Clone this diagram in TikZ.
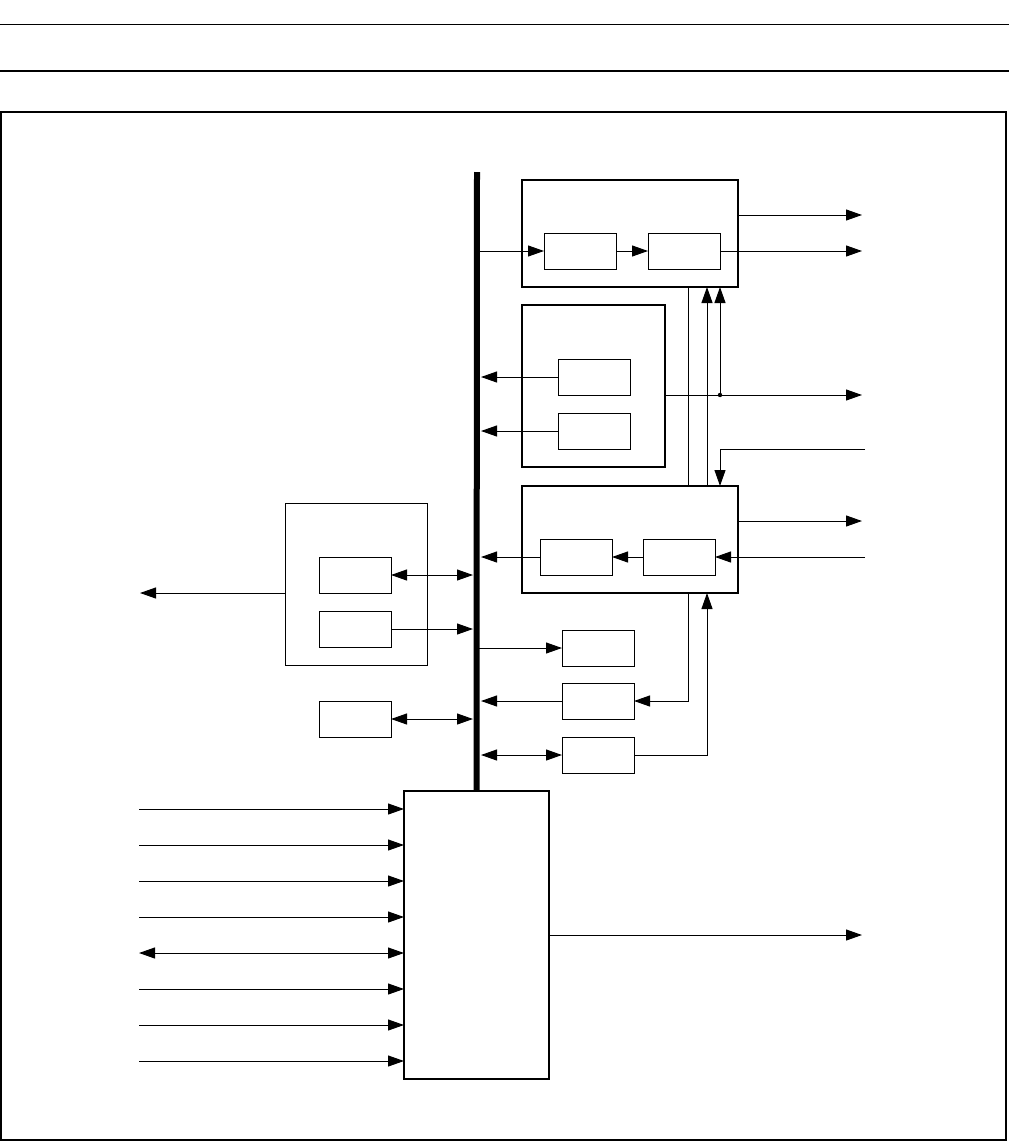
\documentclass[tikz,border=0pt]{standalone}
\usepackage{tikz}
\usetikzlibrary{arrows.meta,calc,positioning}

\tikzset{
  blk/.style={draw, line width=1pt, minimum width=72pt, minimum height=36pt, inner sep=0pt, outer sep=0pt},
  unitbox/.style={draw, line width=1.6pt, inner sep=0pt, outer sep=0pt},
  wire/.style={line width=1pt},
  sig/.style={wire, -{Triangle[length=16pt,width=11pt]}},
  sigboth/.style={wire, {Triangle[length=16pt,width=11pt]}-{Triangle[length=16pt,width=11pt]}},
}

\begin{document}
\begin{tikzpicture}[x=1pt, y=-1pt]
  \useasboundingbox (0,0) rectangle (1009,1143);
  % page rules and frame
  \draw[line width=1pt] (0,24) -- (1009,24);
  \draw[line width=2pt] (0,71) -- (1009,71);
  \draw[line width=2pt] (1,112) rectangle (1006,1140);

  % units on the right of the bus
  \node[unitbox, minimum width=216pt, minimum height=107pt] (tx) at (630,233.5) {};
  \node[blk] (tx1) at (580,251) {};
  \node[blk] (tx2) at (684,251) {};
  \node[unitbox, minimum width=143pt, minimum height=162pt] (st) at (593.5,386) {};
  \node[blk] (st1) at (594,377) {};
  \node[blk] (st2) at (594,431) {};
  \node[unitbox, minimum width=216pt, minimum height=107pt] (rx) at (630,539.5) {};
  \node[blk] (rx1) at (576,557) {};
  \node[blk] (rx2) at (679,557) {};
  \node[blk] (ex1) at (598,648) {};
  \node[blk] (ex2) at (598,701) {};
  \node[blk] (ex3) at (598,755) {};

  % units on the left of the bus
  \node[draw, line width=1pt, minimum width=142pt, minimum height=162pt, inner sep=0pt, outer sep=0pt] (lk) at (356,584) {};
  \node[blk] (lk1) at (355,575) {};
  \node[blk] (lk2) at (355,629) {};
  \node[blk] (mem) at (355,719) {};

  % core
  \node[unitbox, minimum width=145pt, minimum height=288pt] (core) at (476.5,935) {};

  % bus
  \coordinate (bustop) at (477,172);
  \coordinate (busR) at (481,0);
  \coordinate (busL) at (473,0);
  \draw[line width=6pt] (bustop) -- (core.north);

  % helper columns and free ends
  \coordinate (xa) at (688,0);
  \coordinate (xb) at (707,0);
  \coordinate (dot) at (720,395);
  \coordinate (oA) at (862,215);
  \coordinate (oA2) at (862,251);
  \coordinate (oB) at (862,395);
  \coordinate (iC) at (865,449);
  \coordinate (oC) at (862,521);
  \coordinate (iC2) at (865,557);
  \coordinate (oD) at (140,593);
  \coordinate (oG) at (862,935);

  % transmit unit
  \draw[sig] (tx1.west -| bustop) -- (tx1.west);
  \draw[sig] (tx1.east) -- (tx2.west);
  \draw[sig] (tx2.east) -- (oA2);
  \draw[sig] (oA -| tx.east) -- (oA);

  % status unit
  \draw[sig] (st1.west) -- (st1.west -| busR);
  \draw[sig] (st2.west) -- (st2.west -| busR);
  \draw[sig] (oB -| st.east) -- (oB);
  \fill (dot) circle (2.2pt);

  % links between units
  \draw[wire] (tx.south -| xa) -- (rx.north -| xa);
  \draw[sig] (rx.north -| xb) -- (tx.south -| xb);
  \draw[sig] (dot) -- (tx.south -| dot);
  \draw[sig] (iC) -- (iC -| dot) -- (rx.north -| dot);

  % receive unit
  \draw[sig] (oC -| rx.east) -- (oC);
  \draw[sig] (iC2) -- (rx2.east);
  \draw[sig] (rx2.west) -- (rx1.east);
  \draw[sig] (rx1.west) -- (rx1.west -| busR);

  % small units
  \draw[sig] (ex1.west -| bustop) -- (ex1.west);
  \draw[sig] (ex2.west) -- (ex2.west -| busR);
  \draw[sigboth] (ex3.west -| busR) -- (ex3.west);
  \draw[sig] (rx.south -| xa) |- (ex2.east);
  \draw[sig] (ex3.east) -| (rx.south -| xb);

  % left side
  \draw[sigboth] (lk1.east) -- (lk1.east -| busL);
  \draw[sig] (lk2.east) -- (lk2.east -| busL);
  \draw[sig] (oD -| lk.west) -- (oD);
  \draw[sigboth] (mem.east) -- (mem.east -| busL);

  % core inputs and output
  \foreach \y in {809,845,881,917,989,1025,1061}
    {\coordinate (in) at (139,\y); \draw[sig] (in) -- (in -| core.west);}
  \coordinate (io) at (139,953);
  \draw[sigboth] (io) -- (io -| core.west);
  \draw[sig] (core.east) -- (oG);
\end{tikzpicture}
\end{document}
